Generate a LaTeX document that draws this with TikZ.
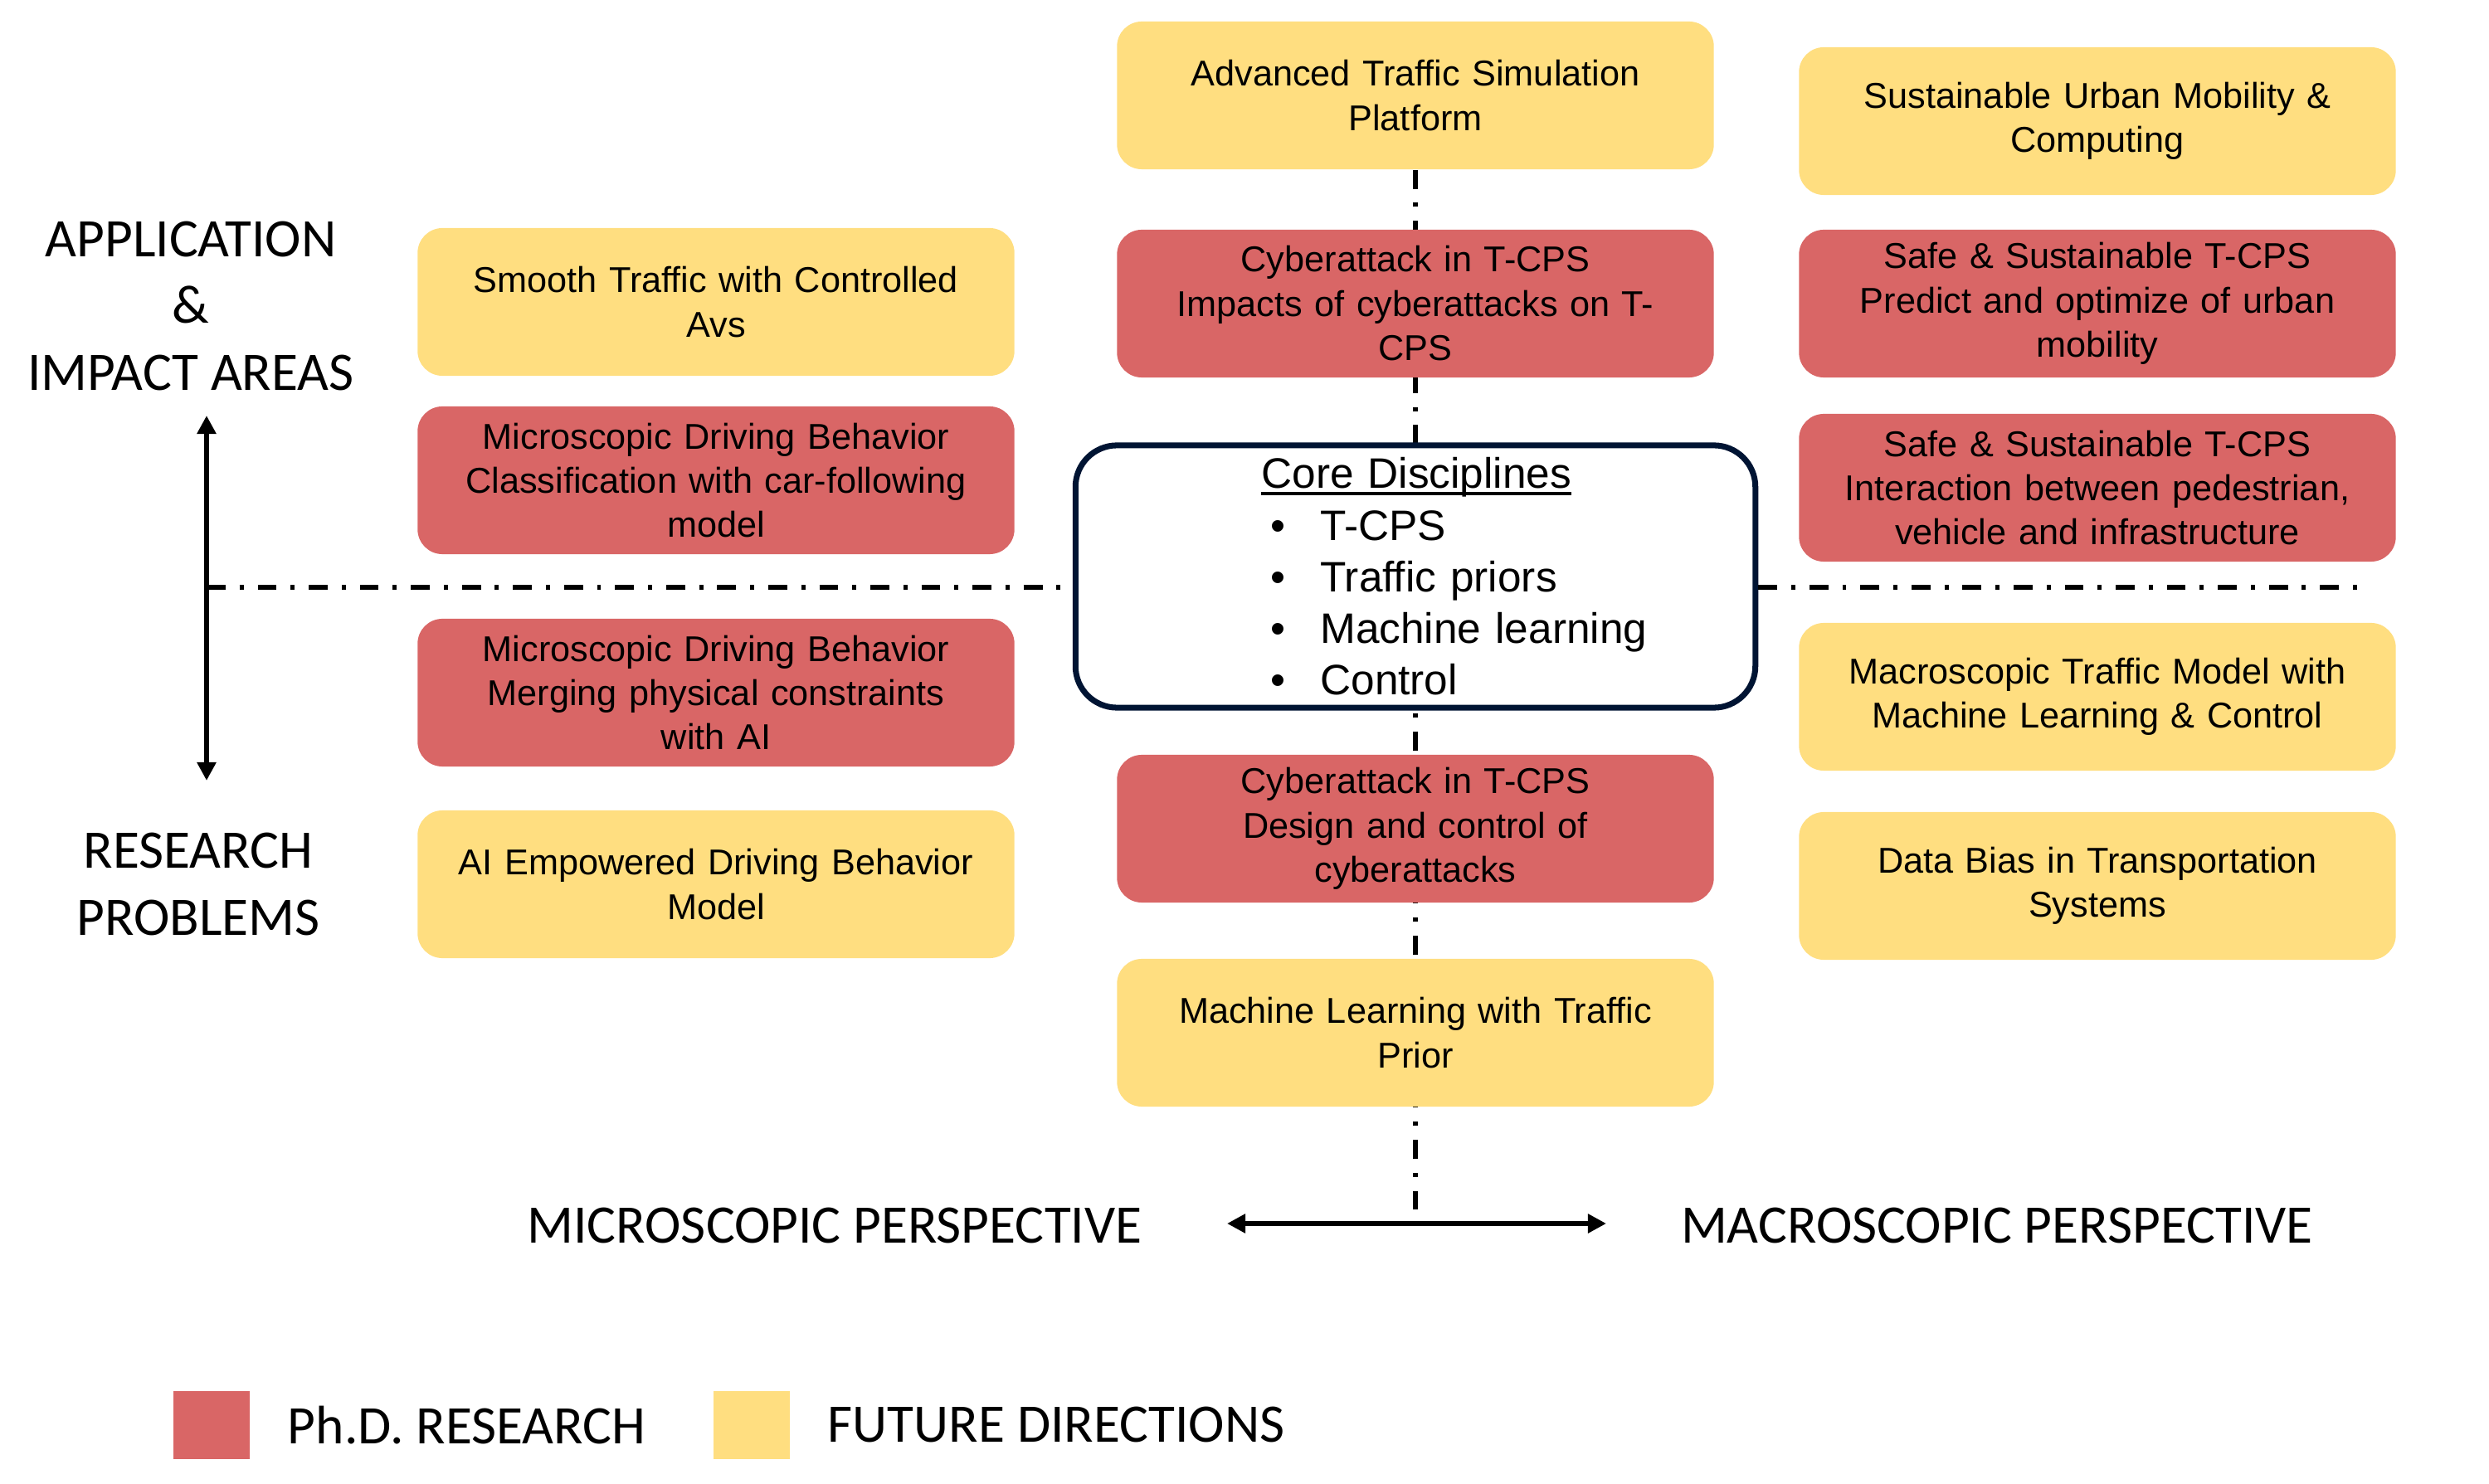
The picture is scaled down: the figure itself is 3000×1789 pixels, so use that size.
\documentclass[tikz,border=0pt]{standalone}
\usepackage{fontspec}
\setmainfont{Liberation Sans}
\newfontfamily\labelfont{Carlito}
\usetikzlibrary{positioning,backgrounds,arrows.meta}
\definecolor{phdred}{RGB}{217,102,102}
\definecolor{futyellow}{RGB}{255,222,128}
\definecolor{corenavy}{RGB}{0,20,51}
\newcommand{\thickul}[1]{\setbox0\hbox{#1}\rlap{\rule[-2.4pt]{\wd0}{1.1pt}}\box0}
\newcommand{\coreitem}[1]{\hspace*{2.35cm}\makebox[0.6cm][l]{\textbullet}#1}

\begin{document}
\begin{tikzpicture}
[x=0.01cm, y=-0.01cm,
 area/.style={rounded corners=0.3cm, minimum width=7.19cm, minimum height=1.78cm, text width=6.9cm, align=center, inner sep=0pt, font=\fontsize{12.3}{15.2}\selectfont},
 phd/.style={area, fill=phdred},
 future/.style={area, fill=futyellow},
 core/.style={draw=corenavy, line width=2pt, fill=white, rounded corners=0.5cm, minimum width=8.19cm, minimum height=3.16cm, text width=8.19cm, inner xsep=0pt, align=left, font=\fontsize{14.6}{17.7}\selectfont},
 sidelabel/.style={font=\labelfont\fontsize{18.6}{22.8}\selectfont, align=center},
 swatch/.style={minimum width=0.91cm, minimum height=0.81cm, inner sep=0pt},
 axisline/.style={line width=1.5pt, dash pattern=on 6.5pt off 4.8pt on 1.4pt off 4.8pt},
 twoway/.style={line width=1.6pt, {Triangle[length=6.3pt,width=6.3pt]}-{Triangle[length=6.3pt,width=6.3pt]}}]
\useasboundingbox (0,0) rectangle (3000,1789);

% middle column
\node[future] (sim) at (1706,115) {Advanced Traffic Simulation\\Platform};
\node[phd] (cyb1) at (1706,366) {Cyberattack in T-CPS\\Impacts of cyberattacks on T-\\CPS};
\node[core] (core) at (1706,695) {\hspace*{2.24cm}\thickul{Core Disciplines}\\
  \coreitem{T-CPS}\\
  \coreitem{Traffic priors}\\
  \coreitem{Machine learning}\\
  \coreitem{Control}};
\node[phd] (cyb2) at (1706,999) {Cyberattack in T-CPS\\Design and control of\\cyberattacks};
\node[future] (mlp) at (1706,1245) {Machine Learning with Traffic\\Prior};

% microscopic side
\node[future] (smooth) at (863,364) {Smooth Traffic with Controlled\\Avs};
\node[phd] (micro1) at (863,579) {Microscopic Driving Behavior\\Classification with car-following\\model};
\node[phd] (micro2) at (863,835) {Microscopic Driving Behavior\\Merging physical constraints\\with AI};
\node[future] (aidb) at (863,1066) {AI Empowered Driving Behavior\\Model};

% macroscopic side
\node[future] (urban) at (2528,146) {Sustainable Urban Mobility \&\\Computing};
\node[phd] (safe1) at (2528,366) {Safe \& Sustainable T-CPS\\Predict and optimize of urban\\mobility};
\node[phd] (safe2) at (2528,588) {Safe \& Sustainable T-CPS\\Interaction between pedestrian,\\vehicle and infrastructure};
\node[future] (macro) at (2528,840) {Macroscopic Traffic Model with\\Machine Learning \& Control};
\node[future] (bias) at (2528,1068) {Data Bias in Transportation\\Systems};

\node[sidelabel] (app) at (230,369) {APPLICATION\\\&\\IMPACT AREAS};
\node[sidelabel] (res) at (239,1066) {RESEARCH\\PROBLEMS};
\node[sidelabel] (micp) at (1006,1477) {MICROSCOPIC PERSPECTIVE};
\node[sidelabel] (macp) at (2407,1477) {MACROSCOPIC PERSPECTIVE};

\coordinate (vt) at (249,501);
\coordinate (vb) at (249,941);
\coordinate (hl) at (249,708);
\coordinate (hr) at (2845,708);
\coordinate (al) at (1479,1475);
\coordinate (ar) at (1936,1475);
\coordinate (ah) at (1706,1475);

\begin{scope}[on background layer]
\draw[axisline] (sim.south) -- (ah);
\end{scope}
\draw[axisline] (hl) -- (hl -| core.west);
\draw[axisline] (hr -| core.east) -- (hr);
\draw[twoway] (vt) -- (vb);
\draw[twoway] (al) -- (ar);

% legend
\node[swatch, fill=phdred] (kphd) at (255,1718) {};
\node[sidelabel, inner sep=0pt, right=0.45cm of kphd] (tphd) {Ph.D. RESEARCH};
\node[swatch, fill=futyellow] (kfut) at (906,1718) {};
\node[sidelabel, inner sep=0pt, right=0.45cm of kfut] (tfut) {FUTURE DIRECTIONS};

\end{tikzpicture}
\end{document}
